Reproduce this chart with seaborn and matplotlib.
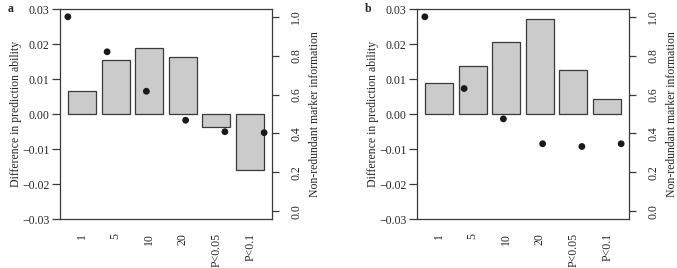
import numpy as np
import pandas as pd
import matplotlib
matplotlib.use("Agg")
import matplotlib.pyplot as plt
import seaborn as sns

sns.set_style("ticks")
plt.rcParams.update({
    'font.family': ['Liberation Serif', 'DejaVu Serif'],
    'font.size': 8.5,
    'axes.unicode_minus': True,
})

# ---- data ----
categories = ["1", "5", "10", "20", "P<0.05", "P<0.1"]

diff_a = [0.0067, 0.0154, 0.0189, 0.0162, -0.0038, -0.0159]
info_a = [1.00, 0.82, 0.617, 0.468, 0.409, 0.404]

diff_b = [0.0090, 0.0138, 0.0205, 0.0271, 0.0126, 0.0043]
info_b = [1.00, 0.631, 0.475, 0.347, 0.333, 0.347]

panels = [("a", diff_a, info_a), ("b", diff_b, info_b)]

LINE = "#3a3a3a"
BAR = "#cbcbcb"
FS = 8.5

fig = plt.figure(figsize=(6.77, 2.68), dpi=100)

# axes rectangles in figure fractions (left, bottom, width, height)
rects = [(60 / 677, 0.1828, 212 / 677, 0.7836),
         (417 / 677, 0.1828, 212 / 677, 0.7836)]

for (tag, diff, info), rect in zip(panels, rects):
    ax = fig.add_axes(rect)
    df = pd.DataFrame({"cat": categories, "diff": diff})
    sns.barplot(data=df, x="cat", y="diff", color=BAR, saturation=1,
                edgecolor=LINE, linewidth=0.9, width=1 / 1.2, ax=ax)
    # R-like limits: bars span, plus 4% padding
    ax.set_xlim(-0.65, 5.65)
    ax.set_ylim(-0.03, 0.03)
    yt = np.arange(-0.03, 0.031, 0.01)
    ax.set_yticks(yt)
    ax.set_yticklabels([f"{v:.2f}".replace("-", "\u2212") if abs(v) > 1e-9 else "0.00" for v in yt])
    ax.set_xlabel("")
    ax.set_ylabel("Difference in prediction ability", fontsize=FS, labelpad=0)
    ax.tick_params(axis='x', length=0, pad=10, rotation=90, labelsize=FS)
    ax.tick_params(axis='y', length=5.5, width=0.9, color=LINE, pad=2, labelsize=FS)
    for sp in ax.spines.values():
        sp.set_visible(True)
        sp.set_color(LINE)
        sp.set_linewidth(0.9)

    # overlaid axes for the points (separate x scale, like par(new=TRUE))
    ax2 = fig.add_axes(rect)
    ax2.patch.set_visible(False)
    idx = np.arange(1, len(info) + 1)
    sns.scatterplot(x=idx, y=info, color="#1a1a1a", s=24, edgecolor="none", ax=ax2)
    ax2.set_xlim(0.8, 6.2)
    ax2.set_ylim(-0.04, 1.04)
    ax2.xaxis.set_visible(False)
    ax2.yaxis.tick_right()
    ax2.yaxis.set_label_position("right")
    ax2.set_yticks([0.0, 0.2, 0.4, 0.6, 0.8, 1.0])
    ax2.set_yticklabels(["0.0", "0.2", "0.4", "0.6", "0.8", "1.0"],
                        rotation=90, va="center")
    ax2.tick_params(axis='y', length=5, width=0.9, color=LINE, pad=8, labelsize=FS)
    for name, sp in ax2.spines.items():
        sp.set_visible(False)
    ax2.set_ylabel("Non-redundant marker information", fontsize=FS, labelpad=5)

    fig.text(rect[0] - 52 / 677, 0.965, tag, fontsize=FS, fontweight="bold",
             ha="left", va="center")

fig.savefig("out.png", dpi=100)
